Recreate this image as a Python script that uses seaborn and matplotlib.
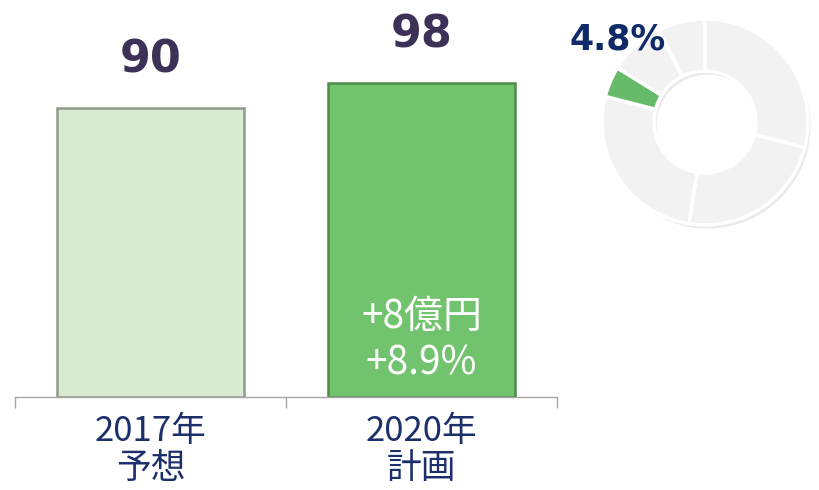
import matplotlib
matplotlib.use("Agg")
import matplotlib.pyplot as plt
import pandas as pd
import seaborn as sns

# bar chart data
categories = ["2017年\n予想", "2020年\n計画"]
values = [90, 98]
value_labels = ["90", "98"]
bar_colors = ["#d9ead3", "#72c36e"]
bar_edges = ["#8f9c88", "#4d8c49"]
inner_note = "+8億円\n+8.9%"

# donut data (share of total, %)
donut_shares = [29.0, 23.5, 26.5, 4.8, 8.8, 7.4]
donut_colors = ["#f2f2f2", "#f2f2f2", "#f2f2f2", "#66bb6a", "#f2f2f2", "#f2f2f2"]
donut_label = "4.8%"

NAVY = "#1b2f6b"
PURPLE = "#3d3157"

sns.set_theme(style="white")
plt.rcParams["font.family"] = ["Noto Sans CJK JP", "DejaVu Sans"]

fig = plt.figure(figsize=(8.2, 4.9), dpi=100)
ax = fig.add_axes([15 / 820, 93 / 490, 542 / 820, 385 / 490])

df = pd.DataFrame({"cat": categories, "val": values})
sns.barplot(data=df, x="cat", y="val", hue="cat", palette=bar_colors,
            saturation=1, width=0.69, legend=False, ax=ax, zorder=2)
for patch, ec in zip(ax.patches, bar_edges):
    patch.set_edgecolor(ec)
    patch.set_linewidth(1.8)

ax.set_xlim(-0.5, 1.5)
ax.set_ylim(0, 120)
ax.set_xlabel("")
ax.set_ylabel("")
ax.set_yticks([])
for side in ["left", "right", "top"]:
    ax.spines[side].set_visible(False)
ax.spines["bottom"].set_color("#a6a6a6")
ax.spines["bottom"].set_linewidth(1.0)

ax.set_xticks(range(len(categories)))
ax.set_xticklabels(categories, fontsize=25, color=NAVY, linespacing=1.08)
ax.tick_params(axis="x", which="major", length=0, pad=12)
ax.set_xticks([-0.5, 0.5, 1.5], minor=True)
ax.tick_params(axis="x", which="minor", length=8, width=1.0, color="#a6a6a6",
               direction="out", bottom=True)

for i, (v, lab) in enumerate(zip(values, value_labels)):
    ax.annotate(lab, (i, v), xytext=(0, 34.5), textcoords="offset points",
                ha="center", va="center", fontsize=32, fontweight="bold",
                color=PURPLE, family="DejaVu Sans")

ax.annotate(inner_note, (1, 0), xytext=(0, 41), textcoords="offset points",
            ha="center", va="center", fontsize=28, color="white",
            linespacing=1.2)

# donut
dax = fig.add_axes([(705 - 115) / 820, (490 - 122 - 115) / 490, 230 / 820, 230 / 490])
dax.pie(donut_shares, colors=["#dcdcdc"] * len(donut_shares), startangle=90,
        counterclock=False, center=(0.025, -0.035),
        wedgeprops=dict(width=0.505, linewidth=0, alpha=0.6))
dax.pie(donut_shares, colors=donut_colors, startangle=90, counterclock=False,
        wedgeprops=dict(width=0.505, edgecolor="white", linewidth=2.5))
dax.set_xlim(-1.117, 1.117)
dax.set_ylim(-1.117, 1.117)
dax.set_aspect("equal")
dax.axis("off")

fig.text(618 / 820, 1 - 40 / 490, donut_label, ha="center", va="center",
         fontsize=25, fontweight="bold", color="#0f2a66", family="DejaVu Sans")

fig.savefig("out.png", dpi=100)
